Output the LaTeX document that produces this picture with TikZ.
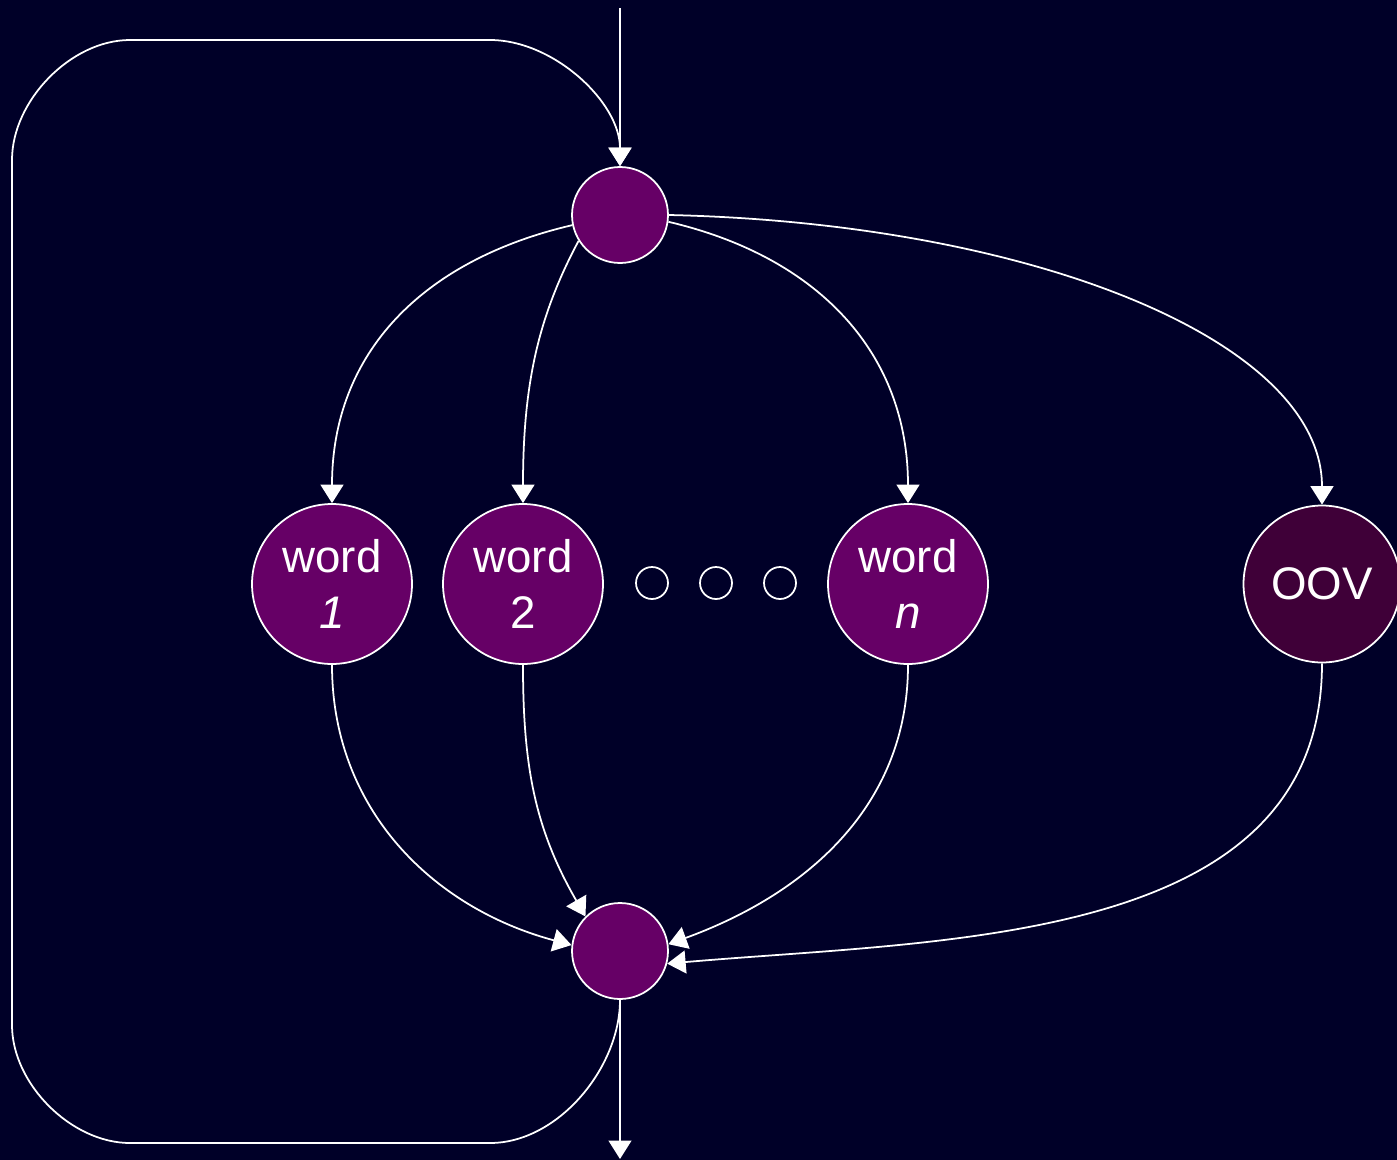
\documentclass[tikz,border=0pt]{standalone}
\usepackage{fontspec}
\setmainfont{Liberation Sans}
\usetikzlibrary{arrows.meta}
\definecolor{bgnavy}{HTML}{000028}
\definecolor{plum}{HTML}{660066}
\definecolor{darkplum}{HTML}{3F0038}
\begin{document}
\begin{tikzpicture}[x=0.02cm,y=-0.02cm,
  wire/.style={draw=white,line width=1pt},
  arr/.style={wire,-{Triangle[length=10.5pt,width=13pt]}},
  state/.style={circle,draw=white,line width=1pt,fill=plum,text=white,
    inner sep=0pt,align=center,font=\fontsize{26}{32}\selectfont},
  hub/.style={state,minimum size=1.92cm},
  wordnode/.style={state,minimum size=3.2cm},
  dot/.style={circle,draw=white,line width=1pt,minimum size=0.64cm,inner sep=0pt}]
  \fill[bgnavy] (0,0) rectangle (1397,1160);
  \useasboundingbox (0,0) rectangle (1397,1160);

  % hubs
  \node[hub] (top) at (620,215) {};
  \node[hub] (bot) at (620,951) {};

  % vocabulary states
  \node[wordnode] (w1) at (332,584) {word\\\textit{1}};
  \node[wordnode] (w2) at (523,584) {word\\2};
  \node[wordnode] (wn) at (908,584) {word\\\textit{n}};
  \node[wordnode,fill=darkplum,minimum size=3.14cm] (oov) at (1322,584) {OOV};

  % ellipsis
  \node[dot] (d1) at (652,583) {};
  \node[dot] (d2) at (716,583) {};
  \node[dot] (d3) at (780,583) {};

  % entry and exit
  \coordinate (in) at (620,8);
  \coordinate (out) at (620,1159);
  \draw[arr] (in) -- (top.north);
  \draw[arr] (bot.south) -- (out);

  % loop back from exit hub to entry hub
  \draw[arr] (bot.south) to[out=-90,in=0,looseness=0.9] (490,1143) -- (130,1143)
    to[out=180,in=-90,looseness=0.9] (12,1025) -- (12,160)
    to[out=90,in=180,looseness=0.9] (130,40) -- (490,40)
    to[out=0,in=90,looseness=0.9] (top.north);

  % fan out (y grows downwards here)
  \draw[arr] (top.192) .. controls +(-150,35) and +(0,-150) .. (w1.north);
  \draw[arr] (top.212) .. controls +(-40,75) and +(0,-120) .. (w2.north);
  \draw[arr] (top.352) .. controls +(150,35) and +(0,-150) .. (wn.north);
  \draw[arr] (top.0) .. controls +(360,8) and +(0,-165) .. (oov.north);

  % fan in
  \draw[arr] (w1.south) to[out=-90,in=165] (bot.173);
  \draw[arr] (w2.south) to[out=-90,in=120] (bot.135);
  \draw[arr] (wn.south) to[out=-90,in=20] (bot.8);
  \draw[arr] (oov.south) to[out=-90,in=5] (bot.-15);
\end{tikzpicture}
\end{document}
